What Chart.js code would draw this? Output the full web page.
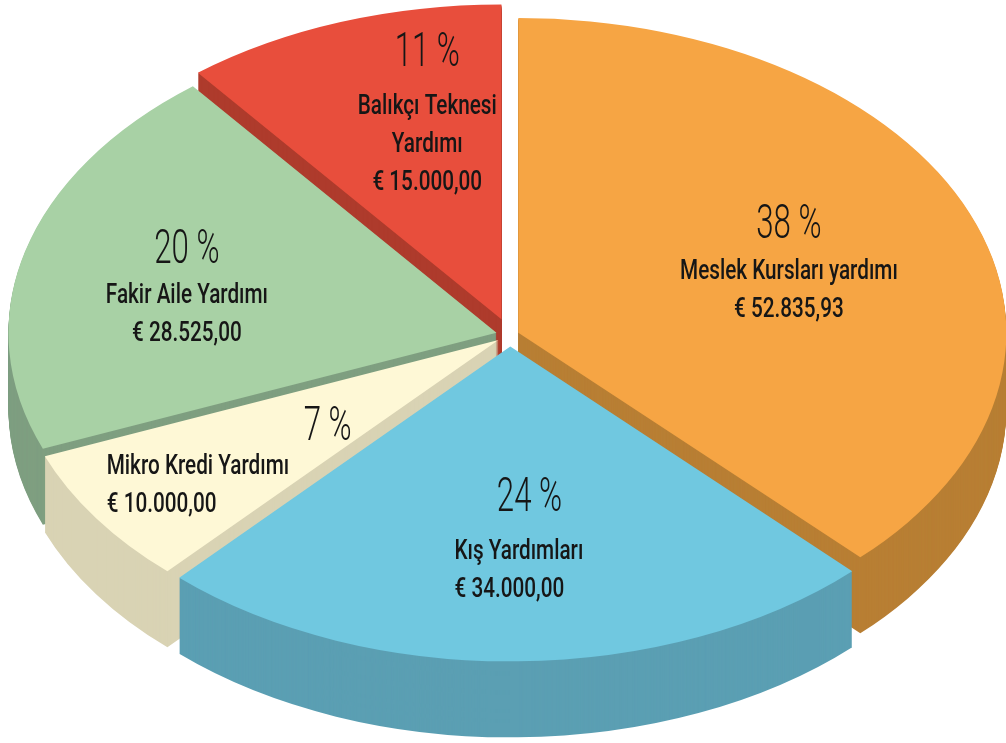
<!DOCTYPE html>
<html lang="tr">
<head>
<meta charset="utf-8">
<title>Yardım Dağılımı</title>
<script src="https://cdn.jsdelivr.net/npm/chart.js@4.4.1/dist/chart.umd.min.js"></script>
<style>
    html, body { margin: 0; padding: 0; background: #ffffff; overflow: hidden; }
    canvas { display: block; }
</style>
</head>
<body>
<canvas id="pieChart" width="1006" height="743"></canvas>
<script>
// Données du graphique (sens horaire depuis le haut)
const categories = [
    'Meslek Kursları yardımı',
    'Kış Yardımları',
    'Mikro Kredi Yardımı',
    'Fakir Aile Yardımı',
    'Balıkçı Teknesi\nYardımı'
];
const amounts = [52835.93, 34000.00, 10000.00, 28525.00, 15000.00];

// Couleurs : dessus et côtés
const topColors  = ['#F6A544', '#70C8E0', '#FEF8D6', '#A8D1A5', '#E84E3C'];
const sideColors = ['#B87F34', '#5B9FB3', '#D9D3B4', '#7F9F80', '#AE3B2C'];

// Géométrie de la perspective
const CX = 510, CY = 335;      // centre du camembert à l'écran
const RADIUS = 488;            // rayon en px
const SQUASH = 0.645;          // écrasement vertical
const DEPTH = 76;              // épaisseur en px
const explode = [9, 18, 14, 14, 26];

// Placement des étiquettes (fraction du rayon, décalage d'angle en degrés)
const labelFrac  = [0.65, 0.56, 0.50, 0.70, 0.87];
const labelShift = [-6.2, -3.2, -7.2, 4, 8];
const labelAlign = ['center', 'left', 'left', 'center', 'center'];
const labelDx    = [0, -75, -221, 0, 0];
const labelGap   = [41, 48, 34, 40, 48];

const TEXT_COLOR = '#161616';

// Format monétaire turc : 52.835,93
function formatEuro(v) {
    const parts = v.toFixed(2).split('.');
    const intPart = parts[0].replace(/\B(?=(\d{3})+(?!\d))/g, '.');
    return '€ ' + intPart + ',' + parts[1];
}

// Dessine un arc de Chart.js avec une autre couleur de remplissage
function drawArcWith(ctx, arc, color) {
    const el = Object.create(arc);
    el.options = Object.assign({}, arc.options, { backgroundColor: color, borderWidth: 0 });
    arc.draw.call(el, ctx);
}

// Texte condensé horizontalement
function drawText(ctx, str, x, y, align, font, sx) {
    ctx.save();
    ctx.translate(x, y);
    ctx.scale(sx, 1);
    ctx.font = font;
    ctx.textAlign = align;
    ctx.textBaseline = 'alphabetic';
    ctx.fillStyle = TEXT_COLOR;
    ctx.fillText(str, 0, 0);
    ctx.restore();
}

function placeArc(ctx, arc, i, dy) {
    const half = (arc.startAngle + arc.endAngle) / 2;
    ctx.translate(CX, CY + dy);
    ctx.scale(1, SQUASH);
    ctx.translate(Math.cos(half) * explode[i], Math.sin(half) * explode[i]);
    ctx.translate(-arc.x, -arc.y);
}

// Plugin : camembert 3D éclaté
const pie3d = {
    id: 'pie3d',
    beforeDatasetsDraw(chart) {
        const ctx = chart.ctx;
        const arcs = chart.getDatasetMeta(0).data;

        // Côtés : couches empilées du bas vers le haut
        for (let d = DEPTH; d >= 1; d--) {
            arcs.forEach((arc, i) => {
                ctx.save();
                placeArc(ctx, arc, i, d);
                drawArcWith(ctx, arc, sideColors[i]);
                ctx.restore();
            });
        }
        // Dessus
        arcs.forEach((arc, i) => {
            ctx.save();
            placeArc(ctx, arc, i, 0);
            arc.draw(ctx);
            ctx.restore();
        });
        return false;
    },
    afterDraw(chart) {
        const ctx = chart.ctx;
        const arcs = chart.getDatasetMeta(0).data;
        const total = amounts.reduce((a, b) => a + b, 0);

        arcs.forEach((arc, i) => {
            const half = (arc.startAngle + arc.endAngle) / 2 + labelShift[i] * Math.PI / 180;
            const r = labelFrac[i] * arc.outerRadius;
            const ax = CX + Math.cos(half) * r;
            const ay = CY + Math.sin(half) * r * SQUASH;

            const pct = Math.round(amounts[i] / total * 100) + ' %';
            drawText(ctx, pct, ax, ay, 'center', '300 48px Roboto, "DejaVu Sans", sans-serif', 0.65);

            const lines = categories[i].split('\n').concat([formatEuro(amounts[i])]);
            let y = ay + labelGap[i];
            lines.forEach(line => {
                drawText(ctx, line, ax + labelDx[i], y, labelAlign[i], '500 28px Roboto, "DejaVu Sans", sans-serif', 0.74);
                y += 38;
            });
        });
    }
};

document.addEventListener('DOMContentLoaded', function() {
    const ctx = document.getElementById('pieChart').getContext('2d');
    new Chart(ctx, {
        type: 'pie',
        data: {
            labels: categories,
            datasets: [{
                data: amounts,
                backgroundColor: topColors,
                borderWidth: 0,
                offset: 0
            }]
        },
        options: {
            responsive: false,
            animation: false,
            events: [],
            radius: RADIUS,
            rotation: 0,
            layout: { padding: 0 },
            plugins: {
                legend: { display: false },
                tooltip: { enabled: false }
            }
        },
        plugins: [pie3d]
    });
});
</script>
</body>
</html>
